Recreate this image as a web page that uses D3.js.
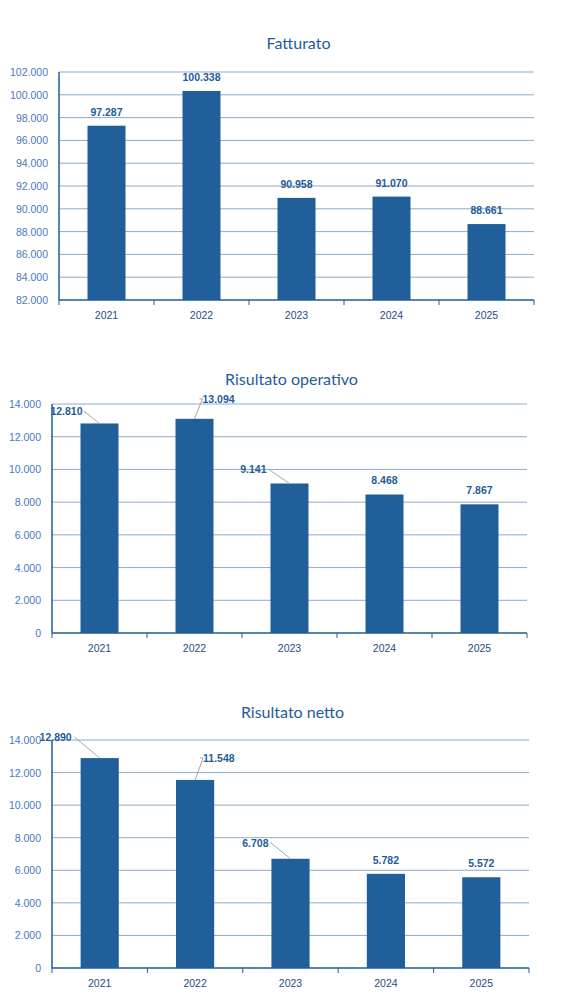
<!DOCTYPE html>
<html><head><meta charset="utf-8">
<script src="https://cdn.jsdelivr.net/npm/d3@7"></script>
<style>body{margin:0;background:#fff}text{font-family:"Liberation Sans",Arial,sans-serif}</style>
</head><body><div id="chart"></div>
<script>
// Data
var years = ["2021", "2022", "2023", "2024", "2025"];
var fatturato = [97287, 100338, 90958, 91070, 88661];
var risultatoOperativo = [12810, 13094, 9141, 8468, 7867];
var risultatoNetto = [12890, 11548, 6708, 5782, 5572];
var titles = ["Fatturato", "Risultato operativo", "Risultato netto"];

// Layout for each panel (label offsets: [dx, dy] from bar top centre, null = default)
var panels = [
  { values: fatturato, title: titles[0], titleY: 44, left: 59, right: 534, top: 72, bottom: 300,
    domain: [82000, 102000], step: 2000, offsets: [null, null, null, null, null] },
  { values: risultatoOperativo, title: titles[1], titleY: 380, left: 52, right: 527, top: 404, bottom: 633,
    domain: [0, 14000], step: 2000, offsets: [[-17, -16], [8, -24], [-23, -18], null, null] },
  { values: risultatoNetto, title: titles[2], titleY: 713, left: 52, right: 529, top: 740, bottom: 968,
    domain: [0, 14000], step: 2000, offsets: [[-28, -25], [8, -26], [-22, -20], null, null] }
];

var fmt = function(v) { return d3.format(",")(v).replace(/,/g, "."); };

var svg = d3.select("#chart").append("svg").attr("width", 579).attr("height", 1006);

panels.forEach(function(p) {
  var g = svg.append("g");
  var x = d3.scaleBand().domain(years).range([p.left, p.right]).paddingInner(0.6).paddingOuter(0.3);
  var y = d3.scaleLinear().domain(p.domain).range([p.bottom, p.top]);
  var ticks = d3.range(p.domain[0], p.domain[1] + 1, p.step);

  g.append("text").attr("x", (p.left + p.right) / 2 + 2).attr("y", p.titleY + 5)
    .attr("text-anchor", "middle").attr("font-size", 16).attr("fill", "#1f5c99")
    .style("font-family", "Lato, sans-serif").text(p.title);

  // gridlines
  g.selectAll(".grid").data(ticks.slice(1)).enter().append("line")
    .attr("x1", p.left).attr("x2", p.right)
    .attr("y1", function(d) { return y(d); }).attr("y2", function(d) { return y(d); })
    .attr("stroke", "#8eaacb").attr("stroke-width", 1);

  // y labels
  g.selectAll(".yl").data(ticks).enter().append("text")
    .attr("x", p.left - 11).attr("y", function(d) { return y(d) + 4; })
    .attr("text-anchor", "end").attr("font-size", 10.5).attr("fill", "#4a78c0")
    .text(fmt);

  // bars
  g.selectAll(".bar").data(p.values).enter().append("rect")
    .attr("x", function(d, i) { return x(years[i]); })
    .attr("y", function(d) { return y(d); })
    .attr("width", x.bandwidth())
    .attr("height", function(d) { return p.bottom - y(d); })
    .attr("fill", "#215f9a");

  // axes lines
  g.append("line").attr("x1", p.left).attr("x2", p.left).attr("y1", p.top).attr("y2", p.bottom)
    .attr("stroke", "#1f5c99").attr("stroke-width", 1.5);
  g.append("line").attr("x1", p.left).attr("x2", p.right).attr("y1", p.bottom).attr("y2", p.bottom)
    .attr("stroke", "#1f5c99").attr("stroke-width", 1.5);
  var step = (p.right - p.left) / years.length;
  g.selectAll(".tk").data(d3.range(years.length + 1)).enter().append("line")
    .attr("x1", function(i) { return p.left + i * step; }).attr("x2", function(i) { return p.left + i * step; })
    .attr("y1", p.bottom).attr("y2", p.bottom + 5).attr("stroke", "#1f5c99");

  g.selectAll(".xl").data(years).enter().append("text")
    .attr("x", function(d) { return x(d) + x.bandwidth() / 2; }).attr("y", p.bottom + 19)
    .attr("text-anchor", "middle").attr("font-size", 10.5).attr("fill", "#1f4e80").text(function(d) { return d; });

  // data labels
  p.values.forEach(function(v, i) {
    var cx = x(years[i]) + x.bandwidth() / 2, ty = y(v);
    var o = p.offsets[i];
    if (o) {
      var lx = cx + o[0], ly = ty + o[1];
      g.append("polyline")
        .attr("points", [[cx, ty], [lx + (o[0] < 0 ? -o[0] * 0.1 : 0), ly + 4], [lx + (o[0] < 0 ? 3 : -3), ly + 4]].map(function(q){return q.join(",");}).join(" "))
        .attr("fill", "none").attr("stroke", "#a6a6a6").attr("stroke-width", 1);
      g.append("text").attr("x", lx + (o[0] < 0 ? 0 : 0)).attr("y", ly + 8)
        .attr("text-anchor", o[0] < 0 ? "end" : "start").attr("font-size", 10.5).attr("font-weight", "bold")
        .attr("fill", "#1f5c99").text(fmt(v));
    } else {
      g.append("text").attr("x", cx).attr("y", ty - 10)
        .attr("text-anchor", "middle").attr("font-size", 10.5).attr("font-weight", "bold")
        .attr("fill", "#1f5c99").text(fmt(v));
    }
  });
});
</script></body></html>
